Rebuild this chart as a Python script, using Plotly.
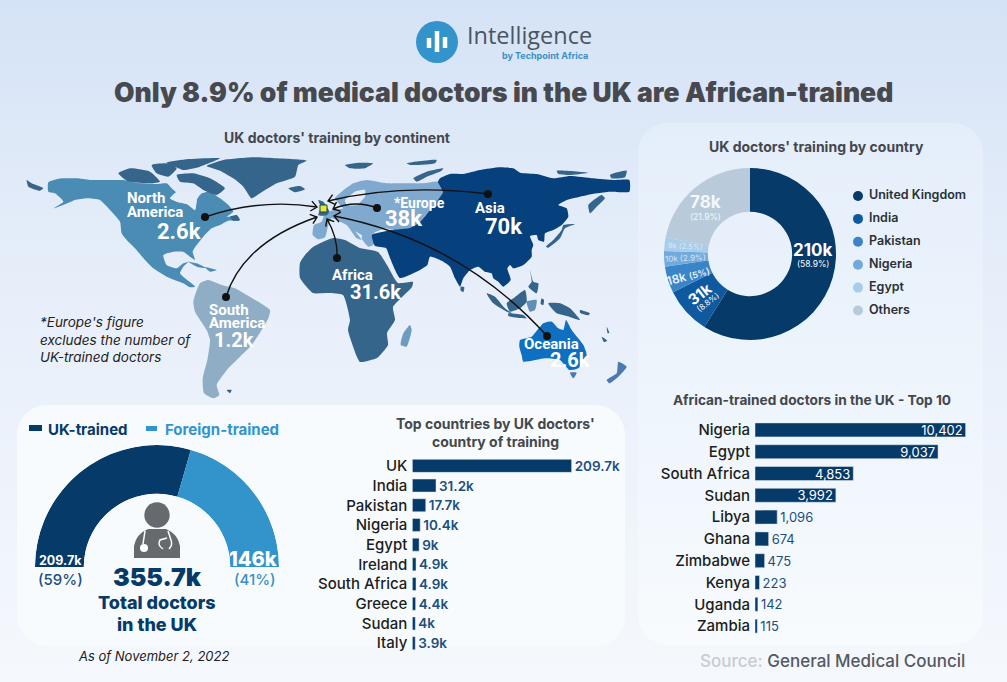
import numpy as np
import plotly.graph_objects as go

W, H = 1007, 682
FONT = "Inter"
NAVY = "#053A69"
SKY = "#3294CB"

# values
gauge_names = ["UK-trained", "Foreign-trained"]
gauge_values = [209.7, 146.0]
donut_names = ["United Kingdom", "India", "Pakistan", "Nigeria", "Egypt", "Others"]
donut_values = [209.7, 31.2, 17.7, 10.4, 9.0, 78.0]
donut_colors = ["#053A69", "#0F5A9E", "#3A85C8", "#72AADC", "#A8CCEB", "#B9CADB"]
top_names = ["UK", "India", "Pakistan", "Nigeria", "Egypt", "Ireland", "South Africa", "Greece", "Sudan", "Italy"]
top_values = [209.7, 31.2, 17.7, 10.4, 9.0, 4.9, 4.9, 4.4, 4.0, 3.9]
top_labels = ["209.7k", "31.2k", "17.7k", "10.4k", "9k", "4.9k", "4.9k", "4.4k", "4k", "3.9k"]
africa_names = ["Nigeria", "Egypt", "South Africa", "Sudan", "Libya", "Ghana", "Zimbabwe", "Kenya", "Uganda", "Zambia"]
africa_values = [10402, 9037, 4853, 3992, 1096, 674, 475, 223, 142, 115]


def crop(x0, y0, pts):
    return [(x0 + p[0] / 3, y0 + p[1] / 3) for p in pts]


# map outlines, traced on 3x crops of the map
north_america = crop(20, 150, [(85,97),(125,85),(170,85),(210,90),(270,90),(310,90),(360,100),(410,102),(440,100),(455,115),(470,130),(450,145),(470,155),(510,165),(525,180),(530,150),(545,130),(570,125),(600,145),(625,165),(640,185),(620,200),(650,200),(658,212),(625,212),(600,225),(575,235),(550,260),(530,285),(518,305),(525,330),(512,322),(490,305),(460,305),(430,315),(440,345),(470,355),(490,340),(505,335),(490,350),(480,370),(495,385),(525,410),(510,412),(490,400),(440,380),(400,355),(375,330),(345,295),(320,270),(305,250),(300,215),(270,180),(240,150),(200,145),(165,150),(130,165),(100,175),(130,155),(105,130),(85,125)])
caribbean = [crop(20, 150, [(505,335),(530,340),(560,355),(535,352)]), crop(20, 150, [(555,352),(590,360),(570,365)])]
south_america = crop(180, 270, [(60,40),(85,30),(125,45),(165,55),(200,75),(270,120),(265,145),(245,180),(215,225),(180,260),(145,295),(110,345),(118,375),(100,385),(72,370),(68,325),(82,270),(90,210),(80,180),(45,125),(40,95)])
africa = [(300,263),(305,255),(313,247),(333,238),(345,240),(360,248),(378,252),(387,265),(398,283),(413,282),(412,287),(393,307),(395,320),(387,333),(388,345),(377,358),(360,362),(357,357),(348,330),(350,320),(343,295),(328,293),(313,293),(300,278)]
europe = crop(290, 150, [(135,145),(155,125),(190,100),(230,90),(290,100),(340,100),(400,100),(445,95),(460,125),(445,150),(420,180),(390,215),(360,235),(310,240),(285,235),(250,250),(235,265),(215,255),(190,240),(180,225),(215,270),(200,265),(170,225),(150,215),(125,205),(115,225),(105,262),(85,268),(68,255),(72,225),(95,215),(105,190),(130,180),(160,175),(150,165)])
balkans = crop(290, 150, [(225,240),(260,255),(250,285),(235,290),(215,265)])
asia = crop(420, 150, [(60,85),(90,72),(130,72),(180,60),(240,52),(280,55),(300,68),(350,72),(400,85),(450,78),(520,85),(580,90),(628,90),(628,125),(570,125),(530,130),(480,140),(440,150),(415,165),(440,175),(445,200),(425,225),(400,240),(375,250),(372,275),(355,270),(350,255),(330,258),(340,285),(335,300),(335,320),(310,345),(280,355),(270,345),(262,355),(272,390),(250,410),(235,395),(220,385),(215,370),(195,365),(175,350),(150,360),(130,385),(120,410),(105,385),(90,350),(70,335),(30,320),(22,345),(0,360)]) + [(400,278),(390,258),(386,248),(375,246),(372,235),(393,230),(410,228),(420,222),(430,210),(438,200),(443,192),(438,182)]
australia = crop(480, 280, [(118,200),(120,180),(155,170),(190,130),(215,125),(235,145),(250,150),(258,120),(275,150),(310,195),(320,225),(295,265),(268,270),(240,240),(195,235),(130,245),(125,225)])
greenland = crop(20, 150, [(560,48),(610,30),(700,22),(770,25),(860,32),(835,45),(825,80),(770,100),(720,130),(695,145),(670,110),(640,85),(600,62)])
arctic_islands = [crop(20, 150, p) for p in [
    [(295,70),(330,55),(390,65),(420,95),(380,100),(320,92)],
    [(395,45),(440,40),(470,55),(445,80),(410,70)],
    [(440,38),(500,28),(600,25),(540,50),(490,60),(465,50)],
    [(470,75),(520,70),(570,85),(615,115),(590,135),(550,120),(520,100),(480,95)],
    [(805,115),(840,108),(855,118),(825,127)],
    [(630,200),(650,195),(660,210),(640,212)],
    [(20,90),(35,100),(70,115),(60,122),(25,110)],
]] + [crop(290, 150, p) for p in [
    [(165,45),(210,38),(250,40),(225,55),(180,55)],
    [(350,40),(440,30),(435,40),(360,45)],
    [(370,85),(410,65),(460,55),(455,62),(410,80),(380,95)],
]] + [crop(420, 150, p) for p in [
    [(410,62),(505,68),(450,75),(415,72)],
    [(570,75),(620,62),(615,82),(575,85)],
    [(505,165),(545,135),(555,145),(530,170),(510,190)],
    [(378,290),(400,270),(425,240),(430,225),(465,222),(435,235),(420,265),(385,293)],
    [(122,410),(133,412),(130,426),(122,422)],
    [(330,360),(340,395),(355,400),(350,430),(325,410),(335,395)],
]]
se_asia_islands = [crop(480, 280, p) for p in [
    [(20,40),(45,50),(75,85),(95,100),(80,95),(40,70)],
    [(85,100),(130,105),(140,115),(85,108)],
    [(80,70),(100,55),(135,30),(140,65),(120,85),(90,95)],
    [(205,70),(240,70),(270,85),(300,120),(260,108),(230,100)],
    [(185,55),(192,60),(190,75),(182,72)],
    [(300,90),(330,100),(325,106),(300,98)],
    [(380,140),(388,158),(383,160)],
    [(365,170),(382,182),(372,186)],
]]
sulawesi = [crop(480, 280, [(140,65),(170,60),(165,90),(150,95)])]
new_zealand = [crop(480, 280, [(380,300),(410,280),(415,245),(440,260),(415,290),(388,310)]), crop(480, 280, [(270,278),(290,278),(280,295)])]
madagascar = [crop(180, 270, [(662,225),(670,190),(690,165),(695,180),(680,230)])]
falklands = [crop(180, 270, [(140,360),(155,360),(150,370)])]
uk_isles = [crop(290, 150, [(85,150),(100,155),(118,185),(110,196),(85,196),(92,172)])]
map_holes = [
    crop(20, 150, [(450,145),(470,125),(510,125),(530,140),(525,180),(500,162),(470,155)]),
    crop(290, 150, [(165,150),(195,125),(225,120),(225,140),(200,165),(170,165)]),
]

# origin dot, control point, arrow tip
arcs = [
    ((205,217),(261,198),(317,207)),
    ((226,297),(242.5,243),(317,217)),
    ((337,258),(338,238),(327,219)),
    ((377,208),(355,199.5),(333,209)),
    ((488,194),(402,183),(328,201)),
    ((547,336),(460,240),(334,216)),
]


def join(polys):
    xs, ys = [], []
    for poly in polys:
        xs += [p[0] for p in poly] + [poly[0][0], None]
        ys += [p[1] for p in poly] + [poly[0][1], None]
    return xs, ys


def rounded(x0, y0, x1, y1, r):
    t = np.linspace(0, np.pi / 2, 10)
    xs = np.concatenate([x1 - r + r * np.sin(t), x1 - r + r * np.cos(t), x0 + r - r * np.sin(t), x0 + r - r * np.cos(t)])
    ys = np.concatenate([y0 + r - r * np.cos(t), y1 - r + r * np.sin(t), y1 - r + r * np.cos(t), y0 + r - r * np.sin(t)])
    return list(xs) + [xs[0]], list(ys) + [ys[0]]


fig = go.Figure()

# page + panels
fig.add_trace(go.Scatter(x=[0, W, W, 0, 0], y=[0, 0, H, H, 0], mode="lines", line=dict(width=0), fill="toself",
                         fillgradient=dict(type="vertical", colorscale=[[0, "#F5F8FD"], [0.55, "#E8EFFA"], [1, "#D5E3F6"]])))
x, y = rounded(17, 405, 625, 646, 30)
fig.add_trace(go.Scatter(x=x, y=y, mode="lines", line=dict(width=0), fill="toself", fillcolor="#F7FBFE"))
x, y = rounded(638, 123, 983, 645, 30)
fig.add_trace(go.Scatter(x=x, y=y, mode="lines", line=dict(width=0), fill="toself",
                         fillgradient=dict(type="vertical", colorscale=[[0, "#F7FBFE"], [1, "#E4EEFA"]])))

# map
map_layers = [
    ([north_america] + caribbean, "#4B8CB5"), ([south_america], "#8FAEC6"), ([africa], "#35658A"), ([europe, balkans], "#7FA9CE"),
    ([asia], "#06407D"), ([australia], "#0F6FC0"), ([greenland] + arctic_islands + se_asia_islands + falklands, "#35658A"),
    (new_zealand, "#4A7AB0"), (sulawesi, "#5F8FB4"), (madagascar, "#6E9CC0"), (uk_isles, "#35658A"), (map_holes, "#E4ECF8"),
]
for polys, color in map_layers:
    x, y = join(polys)
    fig.add_trace(go.Scatter(x=x, y=y, mode="lines", line=dict(width=0, shape="spline", smoothing=0.5), fill="toself", fillcolor=color))
fig.add_trace(go.Scatter(x=[a[0][0] for a in arcs], y=[a[0][1] for a in arcs], mode="markers", marker=dict(color="#111", size=8)))

# bars
fig.add_trace(go.Bar(y=top_names, x=top_values, orientation="h", xaxis="x3", yaxis="y3", marker_color=NAVY, width=0.66,
                     text=top_labels, textposition="outside", cliponaxis=False, constraintext="none",
                     outsidetextfont=dict(family=FONT, size=13.5, color="#1E4E7C", weight=600)))
fig.add_trace(go.Bar(y=africa_names, x=africa_values, orientation="h", xaxis="x4", yaxis="y4", marker_color=NAVY, width=0.64,
                     text=[f"{v:,}" for v in africa_values], cliponaxis=False, constraintext="none",
                     textposition=["inside"] * 4 + ["outside"] * 6, insidetextanchor="end",
                     insidetextfont=dict(family=FONT, size=13, color="white"),
                     outsidetextfont=dict(family=FONT, size=13, color="#1E4E7C")))

# gauge
total = sum(gauge_values)
spans = [v / total * 180 for v in gauge_values]
fig.add_trace(go.Barpolar(r=[1, 1], theta=[spans[0] / 2, spans[0] + spans[1] / 2], width=spans, marker=dict(color=[NAVY, SKY], line_width=0)))

# donut
fig.add_trace(go.Pie(values=donut_values, labels=donut_names, sort=False, direction="clockwise", rotation=0, hole=0.49,
                     marker=dict(colors=donut_colors, line_width=0), textinfo="none",
                     domain=dict(x=[664 / W, 836 / W], y=[1 - 340 / H, 1 - 168 / H])))

# donut legend
legend_y = [196 + 22.9 * i for i in range(6)]
fig.add_trace(go.Scatter(x=[858] * 6, y=legend_y, mode="markers", marker=dict(color=donut_colors, size=10)))
fig.add_trace(go.Scatter(x=[869] * 6, y=legend_y, mode="text", text=donut_names, textposition="middle right",
                         textfont=dict(family=FONT, size=12.5, color="#2A2F36", weight=600)))

ann = []


def label(x, y, text, size=13, color="#333", weight=400, anchor="center", angle=0, italic=False, fam=FONT):
    ann.append(dict(x=x, y=y, xref="x", yref="y", text=text, showarrow=False, xanchor=anchor, yanchor="middle", textangle=angle, align=anchor if anchor != "center" else "center",
                    font=dict(family=fam, size=size, color=color, weight=weight, style="italic" if italic else "normal")))


# header
label(465, 35, "Intelligence", 23.5, "#4A5560", 400, "left", fam="Open Sans")
label(590, 55, "by Techpoint Africa", 9, "#3A8FC4", 700, "right")
label(503, 92, "Only 8.9% of medical doctors in the UK are African-trained", 26.5, "#47494E", 900)
label(337, 137, "UK doctors' training by continent", 14, "#44474C", 700)
label(816, 146, "UK doctors' training by country", 14, "#44474C", 700)
label(495, 423, "Top countries by UK doctors'", 14, "#44474C", 700)
label(495, 441, "country of training", 14, "#44474C", 700)
label(812, 400, "African-trained doctors in the UK - Top 10", 13.7, "#44474C", 700)
label(967, 661, "<span style='color:#C9CCD1'>Source:</span> General Medical Council", 17, "#55595F", 500, "right")
label(38, 339, "*Europe's figure<br>excludes the number of<br>UK-trained doctors", 13.5, "#222", 400, "left", italic=True)
label(153, 656, "As of November 2, 2022", 13, "#222", 400, italic=True)

# map labels
for x, y, text, size, anchor in [
    (125, 198, "North", 15, "left"), (125, 212, "America", 15, "left"), (155, 231, "2.6k", 22, "left"),
    (473, 208, "Asia", 15, "left"), (483, 226, "70k", 22, "left"), (392, 203, "*Europe", 14, "left"), (383, 218, "38k", 22, "left"),
    (330, 275, "Africa", 15, "left"), (348, 292, "31.6k", 20, "left"), (207, 310, "South", 15, "left"),
    (207, 323, "America", 15, "left"), (212, 340, "1.2k", 20, "left"), (522, 344, "Oceania", 15, "left"), (548, 360, "2.6k", 20, "left"),
]:
    label(x, y, text, size, "white", 700, anchor, fam="Roboto")

# gauge labels
label(46, 429, "UK-trained", 15, NAVY, 700, "left")
label(163, 429, "Foreign-trained", 15, SKY, 700, "left")
label(60, 560, "209.7k", 12.5, "white", 700)
label(60, 579, "(59%)", 15, "#1E4E7C", 500)
label(253, 559, "146k", 20, "white", 800)
label(255, 579, "(41%)", 15, "#3A8FC4", 500)
label(157, 577, "355.7k", 25, NAVY, 900)
label(157, 602, "Total doctors", 18, NAVY, 800)
label(157, 624, "in the UK", 18, NAVY, 800)

# donut labels
label(813, 250, "210k", 17, "white", 700)
label(813, 264, "(58.9%)", 8.5, "white")
label(705, 202, "78k", 17, "#F4F8FC", 700)
label(705, 217, "(21.9%)", 8.5, "#F4F8FC")
label(699, 294, "31k", 15, "white", 700, angle=-38)
label(708, 302, "(8.8%)", 8, "white", angle=-38)
label(688, 275, "18k <span style='font-size:9px'>(5%)</span>", 12, "#EAF2FA", 600, angle=-15)
label(685, 258, "10k (2.9%)", 8, "#DCE8F3", angle=-3)
label(685, 246, "9k (2.5%)", 7.5, "#DCE8F3", angle=3)

# shapes: doctor icon, logo, arcs
shapes = []
gray = "#666A6F"


def circle(cx, cy, r, fill):
    shapes.append(dict(type="circle", xref="x", yref="y", x0=cx - r, x1=cx + r, y0=cy - r, y1=cy + r, fillcolor=fill, line_width=0))


shapes.append(dict(type="rect", xref="x", yref="y", x0=29, x1=42, y0=425, y1=431, fillcolor=NAVY, line_width=0))
shapes.append(dict(type="rect", xref="x", yref="y", x0=146, x1=157, y0=426, y1=431, fillcolor=SKY, line_width=0))

circle(157, 515, 12.7, gray)
shapes.append(dict(type="path", xref="x", yref="y", path="M134,558 L134,546 Q136,534 148,529 L166,529 Q178,534 180,546 L180,558 Z", fillcolor=gray, line_width=0))
shapes.append(dict(type="path", xref="x", yref="y", path="M145,531 L143,544 M168,531 L171,540 Q173,545 169,549 M163,549 Q157,545 160,540 L167,538", fillcolor="rgba(0,0,0,0)", line=dict(color="white", width=1.5)))
circle(144, 548, 4, "white")

circle(437, 42, 21, "#3294CB")
for bx, y0, y1 in [(429, 38, 48), (437, 31, 52), (445, 37, 48)]:
    shapes.append(dict(type="line", xref="x", yref="y", x0=bx, x1=bx, y0=y0, y1=y1, line=dict(color="white", width=4.5)))

shapes.append(dict(type="rect", xref="x", yref="y", x0=320, x1=327, y0=205, y1=212, fillcolor="#E5E83A", line=dict(color="#1A4A3A", width=1)))

for (p0, c, p1) in arcs:
    d = np.array(p1) - np.array(c)
    d = d / np.hypot(*d)
    n = np.array([-d[1], d[0]])
    b1 = np.array(p1) - 6 * d + 5 * n
    b2 = np.array(p1) - 6 * d - 5 * n
    path = f"M{p0[0]},{p0[1]} Q{c[0]},{c[1]} {p1[0]},{p1[1]} M{b1[0]:.1f},{b1[1]:.1f} L{p1[0]},{p1[1]} L{b2[0]:.1f},{b2[1]:.1f}"
    shapes.append(dict(type="path", xref="x", yref="y", path=path, fillcolor="rgba(0,0,0,0)", line=dict(color="#111", width=1.4)))

hidden = dict(visible=False, fixedrange=True)
tick = dict(family=FONT, size=15, color="#1B1D20", weight=500)
fig.update_layout(
    width=W, height=H, margin=dict(l=0, r=0, t=0, b=0), showlegend=False, hovermode=False,
    paper_bgcolor="#E8EFFA", plot_bgcolor="rgba(0,0,0,0)", barmode="overlay",
    xaxis=dict(range=[0, W], domain=[0, 1], **hidden),
    yaxis=dict(range=[H, 0], domain=[0, 1], **hidden),
    xaxis3=dict(range=[0, 209.7], domain=[412.3 / W, 571.7 / W], anchor="y3", **hidden),
    yaxis3=dict(autorange="reversed", domain=[1 - 653 / H, 1 - 456 / H], anchor="x3", tickfont=tick, ticks="", showline=False, showgrid=False, fixedrange=True, ticklabelstandoff=4),
    xaxis4=dict(range=[0, 10402], domain=[755 / W, 965.7 / W], anchor="y4", **hidden),
    yaxis4=dict(autorange="reversed", domain=[1 - 637 / H, 1 - 419 / H], anchor="x4", tickfont=tick, ticks="", showline=False, showgrid=False, fixedrange=True, ticklabelstandoff=4),
    polar=dict(domain=dict(x=[35 / W, 279 / W], y=[1 - 567 / H, 1 - 445 / H]), sector=[0, 180], hole=0.6,
               bgcolor="rgba(0,0,0,0)", bargap=0,
               radialaxis=dict(visible=False, range=[0, 1]),
               angularaxis=dict(visible=False, thetaunit="degrees", direction="clockwise", rotation=180)),
    annotations=ann, shapes=shapes,
)

fig.write_html("out.html", config={"displayModeBar": False}, post_script="document.body.style.margin='0';document.body.style.overflow='hidden';")
